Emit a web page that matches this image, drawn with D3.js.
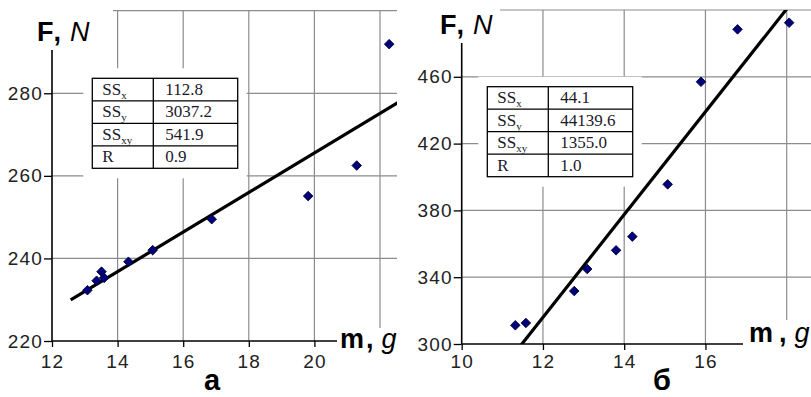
<!DOCTYPE html>
<html>
<head>
<meta charset="utf-8">
<script src="https://cdn.jsdelivr.net/npm/d3@7"></script>
<style>
  html, body { margin: 0; padding: 0; background: #fff; }
  svg { display: block; }
  .tick text { font-family: "Liberation Sans", Arial, sans-serif; font-size: 19px; fill: #222; letter-spacing: 1.2px; }
</style>
</head>
<body>
<svg id="chart" width="811" height="397"></svg>
<script>
// Panel "а": mass m (g) vs force F (N)
const massA  = [22.28, 21.29, 19.81, 16.87, 15.07, 14.33, 13.51, 13.59, 13.36, 13.08];
const forceA = [291.9, 262.5, 255.1, 249.5, 242.0, 239.2, 236.8, 235.3, 234.6, 232.3];
// Panel "б"
const massB  = [18.06, 16.79, 15.89, 15.07, 14.20, 13.80, 13.09, 12.77, 11.58, 11.32];
const forceB = [492.4, 488.4, 457.0, 395.6, 364.3, 356.1, 344.9, 331.7, 312.6, 311.2];

// Axis ticks and grid values
const xTicksA = [12, 14, 16, 18, 20];
const yTicksA = [220, 240, 260, 280];
const gridXA  = [14, 16, 18, 20, 22];
const gridYA  = [240, 260, 280, 300];
const xTicksB = [10, 12, 14, 16];
const yTicksB = [300, 340, 380, 420, 460];
const gridXB  = [12, 14, 16, 18];
const gridYB  = [340, 380, 420, 460, 500];

// Regression summary tables
const statNames = [["SS", "x"], ["SS", "y"], ["SS", "xy"], ["R", ""]];
const statsA = ["112.8", "3037.2", "541.9", "0.9"];
const statsB = ["44.1", "44139.6", "1355.0", "1.0"];

// Panel captions
const captionA = "а";
const captionB = "б";

const svg = d3.select("#chart");
const SANS = "'Liberation Sans', Arial, sans-serif";
const SERIF = "'Liberation Serif', 'Times New Roman', serif";

function drawPanel(p) {
  const g = svg.append("g");
  const x = d3.scaleLinear().domain(p.xDomain).range(p.xRange);
  const y = d3.scaleLinear().domain(p.yDomain).range(p.yRange);
  const x0 = p.xRange[0], yBase = p.yRange[0];

  // grid
  const grid = g.append("g").attr("stroke", "#8c8c8c").attr("stroke-width", 1.2);
  p.gridY.forEach((v, i) => {
    const top = i === p.gridY.length - 1;
    grid.append("line")
      .attr("x1", top ? p.topGridStart : x0).attr("x2", p.gridRight)
      .attr("y1", y(v)).attr("y2", y(v));
  });
  p.gridX.forEach((v, i) => {
    const last = i === p.gridX.length - 1;
    grid.append("line")
      .attr("x1", x(v)).attr("x2", x(v))
      .attr("y1", y(p.yDomain[1])).attr("y2", last ? p.lastGridBottom : yBase);
  });

  // table with white backing
  const t = p.table;
  const rowH = 22.5;
  const tg = g.append("g");
  tg.append("rect")
    .attr("x", t.x - 9).attr("y", t.y - 10)
    .attr("width", t.w + 18).attr("height", rowH * 4 + 20)
    .attr("fill", "#fff");
  tg.append("rect")
    .attr("x", t.x).attr("y", t.y).attr("width", t.w).attr("height", rowH * 4)
    .attr("fill", "none").attr("stroke", "#000").attr("stroke-width", 1.3);
  for (let i = 1; i < 4; i++) {
    tg.append("line").attr("x1", t.x).attr("x2", t.x + t.w)
      .attr("y1", t.y + rowH * i).attr("y2", t.y + rowH * i)
      .attr("stroke", "#000").attr("stroke-width", 1.3);
  }
  tg.append("line").attr("x1", t.x + t.col).attr("x2", t.x + t.col)
    .attr("y1", t.y).attr("y2", t.y + rowH * 4)
    .attr("stroke", "#000").attr("stroke-width", 1.3);
  statNames.forEach((nm, i) => {
    const tx = tg.append("text")
      .attr("x", t.x + 10).attr("y", t.y + rowH * i + 16.5)
      .attr("font-family", SERIF).attr("font-size", 17).attr("fill", "#1a1a2a");
    tx.append("tspan").text(nm[0]);
    if (nm[1]) tx.append("tspan").attr("font-size", 11).attr("dy", 4).text(nm[1]);
    tg.append("text")
      .attr("x", t.x + t.col + 12).attr("y", t.y + rowH * i + 16.5)
      .attr("font-family", SERIF).attr("font-size", 17).attr("fill", "#1a1a2a")
      .text(p.stats[i]);
  });

  // axes
  const ax = g.append("g").attr("transform", `translate(0,${yBase})`)
    .call(d3.axisBottom(x).tickValues(p.xTicks).tickSize(6).tickPadding(p.xPad).tickSizeOuter(0));
  const ay = g.append("g").attr("transform", `translate(${x0},0)`)
    .call(d3.axisLeft(y).tickValues(p.yTicks).tickSize(8).tickPadding(1).tickSizeOuter(0));
  [ax, ay].forEach(a => {
    a.select(".domain").remove();
    a.selectAll(".tick line").attr("stroke", "#000").attr("stroke-width", 1.3);
  });
  g.append("line").attr("x1", x0).attr("x2", p.xAxisEnd).attr("y1", yBase).attr("y2", yBase)
    .attr("stroke", "#000").attr("stroke-width", 1.6);
  g.append("line").attr("x1", x0).attr("x2", x0).attr("y1", p.yAxisTop).attr("y2", yBase)
    .attr("stroke", "#000").attr("stroke-width", 1.6);

  // least-squares fit line
  const mx = d3.mean(p.mass), my = d3.mean(p.force);
  const sxx = d3.sum(p.mass, v => (v - mx) * (v - mx));
  const sxy = d3.sum(p.mass.map((v, i) => (v - mx) * (p.force[i] - my)));
  const slope = sxy / sxx;
  const fit = v => my + slope * (v - mx);
  const clipId = "clip" + p.id;
  g.append("clipPath").attr("id", clipId).append("rect")
    .attr("x", x0).attr("y", y(p.yDomain[1]))
    .attr("width", p.gridRight - x0).attr("height", yBase - y(p.yDomain[1]));
  g.append("path")
    .datum(p.fitRange)
    .attr("clip-path", `url(#${clipId})`)
    .attr("d", d3.line().x(v => x(v)).y(v => y(fit(v))))
    .attr("fill", "none").attr("stroke", "#000").attr("stroke-width", 3.2);

  // points
  g.append("g").selectAll("path")
    .data(p.mass.map((v, i) => [v, p.force[i]]))
    .join("path")
    .attr("transform", d => `translate(${x(d[0])},${y(d[1])}) rotate(45)`)
    .attr("d", d3.symbol(d3.symbolSquare, 46))
    .attr("fill", "#00007a").attr("stroke", "#000033").attr("stroke-width", 0.8);

  // axis titles
  const fy = g.append("text").attr("x", p.fLabel[0]).attr("y", p.fLabel[1])
    .attr("font-family", SANS).attr("font-size", 27).attr("fill", "#000");
  fy.append("tspan").attr("font-weight", "bold").attr("letter-spacing", 3).text("F,");
  fy.append("tspan").attr("dx", 6).attr("font-style", "italic").text("N");
  const mxl = g.append("text").attr("x", p.mLabel[0]).attr("y", p.mLabel[1])
    .attr("font-family", SANS).attr("font-size", 27).attr("fill", "#000");
  mxl.append("tspan").attr("font-weight", "bold").text("m");
  mxl.append("tspan").attr("dx", p.commaGap).attr("font-weight", "bold").text(",");
  mxl.append("tspan").attr("dx", 8).attr("font-style", "italic").text("g");

  g.append("text").attr("x", p.caption[0]).attr("y", p.caption[1])
    .attr("text-anchor", "middle").attr("font-family", SANS)
    .attr("font-size", 29).attr("font-weight", "bold").attr("fill", "#000")
    .text(p.captionText);
}

drawPanel({
  id: "A", mass: massA, force: forceA, stats: statsA,
  xDomain: [12, 22], xRange: [52, 380],
  yDomain: [220, 300], yRange: [341, 10.7],
  xTicks: xTicksA, yTicks: yTicksA, gridX: gridXA, gridY: gridYA,
  gridRight: 397, topGridStart: 113, lastGridBottom: 328,
  xAxisEnd: 337, yAxisTop: 50, xPad: 8,
  fitRange: [12.57, 22.6],
  table: { x: 92.3, y: 78.3, w: 145.4, col: 61 },
  fLabel: [37, 41], mLabel: [340, 348], commaGap: 2,
  caption: [212, 390], captionText: captionA
});

drawPanel({
  id: "B", mass: massB, force: forceB, stats: statsB,
  xDomain: [10, 18], xRange: [461.7, 786.7],
  yDomain: [300, 500], yRange: [344, 10],
  xTicks: xTicksB, yTicks: yTicksB, gridX: gridXB, gridY: gridYB,
  gridRight: 811, topGridStart: 500, lastGridBottom: 320,
  xAxisEnd: 743, yAxisTop: 43, xPad: 5,
  fitRange: [11, 18.5],
  table: { x: 487.3, y: 86.7, w: 145.4, col: 61 },
  fLabel: [440, 34], mLabel: [749, 342], commaGap: 6,
  caption: [662, 390], captionText: captionB
});
</script>
</body>
</html>
